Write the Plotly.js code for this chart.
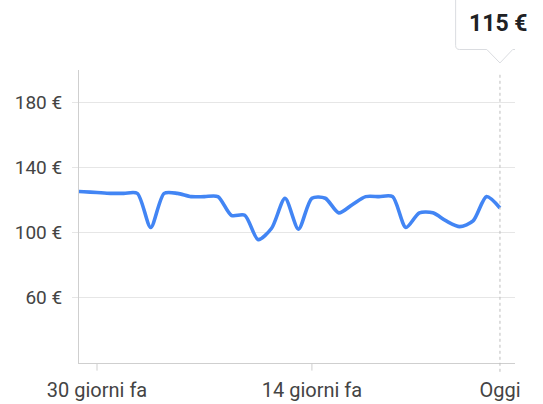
<!DOCTYPE html>
<html>
<head>
<meta charset="utf-8">
<script src="https://cdn.plot.ly/plotly-3.0.1.min.js"></script>
<style>html,body{margin:0;padding:0;background:#fff;}#chart{width:543px;height:404px;}</style>
</head>
<body>
<div id="chart"></div>
<script>
// Days relative to today (0 = Oggi)
const days   = [-32, -31, -30, -29, -28, -27, -26, -25, -24, -23, -22, -21, -20, -19, -18, -17, -16, -15, -14, -13, -12, -11, -10, -9, -8, -7, -6, -5, -4, -3, -2, -1, 0];
const prices = [125.5, 125, 124.5, 124, 124, 124, 103, 124, 124, 122, 122, 122, 110.5, 110.5, 95.5, 102.5, 121, 102, 121, 121, 112, 117, 122, 122, 122, 103, 112, 112, 107, 103.5, 107, 122, 115];
const tickDays   = [-30, -14, 0];
const tickLabels = ['30 giorni fa', '14 giorni fa', 'Oggi'];
const yTicks     = [60, 100, 140, 180];
const yLabels    = ['60 €', '100 €', '140 €', '180 €'];
const currentLabel = '115 €';

const lastDay = days[days.length - 1];
const gridCol = '#e6e6e6';
const axisCol = '#cfcfcf';

const trace = {
  x: days, y: prices, type: 'scatter', mode: 'lines',
  line: {color: '#4285f4', width: 3.6, shape: 'spline', smoothing: 0.75},
  hoverinfo: 'skip'
};

const shapes = [];
// tick marks for the x axis (except today, drawn as dashed line)
tickDays.slice(0, -1).forEach(d => shapes.push({
  type: 'line', xref: 'x', yref: 'paper', x0: d, x1: d, y0: 0, y1: -0.026,
  line: {color: axisCol, width: 1}
}));
// dashed vertical "today" line
shapes.push({type: 'line', xref: 'x', yref: 'paper', x0: lastDay, x1: lastDay, y0: -0.03, y1: 0.99,
  line: {color: '#bdbdbd', width: 1, dash: '3px,3px'}});
// callout box with pointer
const bl = lastDay - 3.3, br = lastDay + 3.07, pl = lastDay - 0.98, pr = lastDay + 0.95;
const yb = 1.07, yt = 1.26, yp = 1.024, rx = 0.3, ry = 0.014;
shapes.push({type: 'path', xref: 'x', yref: 'paper', layer: 'above',
  path: `M ${bl} ${yt} L ${bl} ${yb + ry} Q ${bl} ${yb} ${bl + rx} ${yb} L ${pl} ${yb} L ${lastDay} ${yp} L ${pr} ${yb} L ${br - rx} ${yb} Q ${br} ${yb} ${br} ${yb + ry} L ${br} ${yt}`,
  line: {color: '#dadce0', width: 1}, fillcolor: 'rgba(255,255,255,1)'});

const layout = {
  width: 543, height: 404,
  margin: {l: 79, r: 28, t: 70, b: 41},
  paper_bgcolor: '#fff', plot_bgcolor: '#fff',
  font: {family: 'Roboto, sans-serif', size: 19, color: '#444'},
  showlegend: false,
  xaxis: {
    range: [-31.34, 1.12], tickvals: tickDays, ticktext: tickLabels,
    showgrid: false, zeroline: false, showline: true, linecolor: axisCol, linewidth: 1,
    ticks: '', ticklabelstandoff: 9, tickfont: {size: 20, color: '#444'}, fixedrange: true
  },
  yaxis: {
    range: [19.5, 200], tickvals: yTicks, ticktext: yLabels,
    showgrid: true, gridcolor: gridCol, gridwidth: 1, zeroline: false,
    showline: true, linecolor: axisCol, linewidth: 1,
    ticks: 'outside', ticklen: 6, tickcolor: gridCol, ticklabelstandoff: 6,
    tickfont: {size: 19, color: '#444'}, fixedrange: true
  },
  shapes: shapes,
  annotations: [{
    xref: 'x', yref: 'paper', x: lastDay - 0.1, y: 1.16, text: '<b>' + currentLabel + '</b>',
    showarrow: false, xanchor: 'center', yanchor: 'middle',
    font: {family: 'Roboto, sans-serif', size: 23, color: '#202124'}
  }]
};

Plotly.newPlot('chart', [trace], layout, {displayModeBar: false, staticPlot: true});
</script>
</body>
</html>
